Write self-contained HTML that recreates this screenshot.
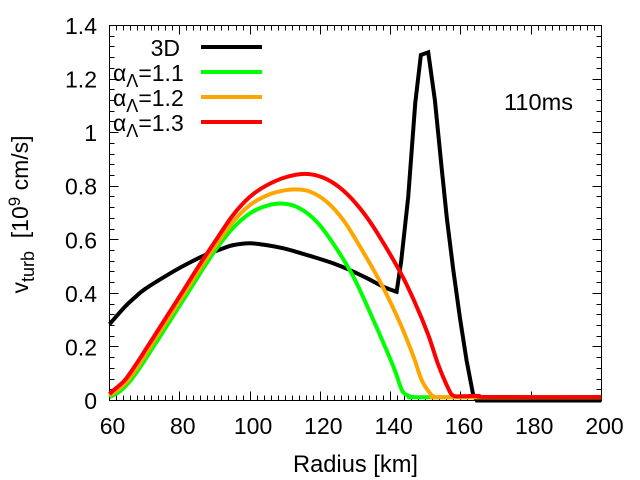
<!DOCTYPE html>
<html>
<head>
<meta charset="utf-8">
<style>
html,body{margin:0;padding:0;background:#fff;}
svg{display:block;font-family:"Liberation Sans",sans-serif;fill:#000;}
</style>
</head>
<body>
<svg id="chart" width="640" height="480" viewBox="0 0 640 480" xmlns="http://www.w3.org/2000/svg">
<rect x="0" y="0" width="640" height="480" fill="#fff"/>
<g id="ticks"></g>
<g id="xlabels"></g>
<g id="ylabels"></g>
<rect x="109.5" y="25.5" width="492" height="375" fill="none" stroke="#000" stroke-width="1"/>
<g id="series"></g>
<text x="355.5" y="472" font-size="24" textLength="125" lengthAdjust="spacingAndGlyphs" text-anchor="middle">Radius [km]</text>
<text transform="translate(28,214.5) rotate(-90)" font-size="23" text-anchor="middle">v<tspan font-size="18" dy="6">turb</tspan><tspan dy="-6" xml:space="preserve">  [10</tspan><tspan font-size="17" dy="-8">9</tspan><tspan dy="8"> cm/s]</tspan></text>
<text x="504" y="110" font-size="23" textLength="69" lengthAdjust="spacingAndGlyphs">110ms</text>
<g>
<text x="180" y="56" font-size="23" text-anchor="end">3D</text>
<text x="113" y="81" font-size="23">α<tspan font-size="18" dy="6">Λ</tspan><tspan dy="-6">=1.1</tspan></text>
<text x="113" y="106" font-size="23">α<tspan font-size="18" dy="6">Λ</tspan><tspan dy="-6">=1.2</tspan></text>
<text x="113" y="131" font-size="23">α<tspan font-size="18" dy="6">Λ</tspan><tspan dy="-6">=1.3</tspan></text>
<line x1="201" y1="47" x2="262" y2="47" stroke="#000" stroke-width="4"/>
<line x1="201" y1="72" x2="262" y2="72" stroke="#00ff00" stroke-width="4"/>
<line x1="201" y1="97" x2="262" y2="97" stroke="#ffa500" stroke-width="4"/>
<line x1="201" y1="122" x2="262" y2="122" stroke="#ff0000" stroke-width="4"/>
</g>
</svg>
<script>
const xTickValues = [60, 80, 100, 120, 140, 160, 180, 200];
const yTickValues = [0, 0.2, 0.4, 0.6, 0.8, 1, 1.2, 1.4];
const xTickLabels = ["60", "80", "100", "120", "140", "160", "180", "200"];
const yTickLabels = ["0", "0.2", "0.4", "0.6", "0.8", "1", "1.2", "1.4"];

const radius3D = [60, 64.4, 67, 70.1, 77.7, 82.4, 87.2, 91.9, 95.2, 100, 104.7, 109.5, 114.2, 119, 123.7, 128.4, 133.2, 137.9, 141.2, 141.7, 143, 145, 147, 148.6, 150.7, 152.6, 154.5, 156, 157.8, 159.7, 161.6, 163.5, 164.5, 200];
const values3D = [0.285, 0.35, 0.382, 0.416, 0.478, 0.512, 0.543, 0.566, 0.58, 0.587, 0.58, 0.568, 0.551, 0.532, 0.512, 0.487, 0.457, 0.425, 0.408, 0.406, 0.52, 0.76, 1.11, 1.29, 1.3, 1.12, 0.87, 0.68, 0.49, 0.31, 0.15, 0.02, 0, 0];

const radiusA11 = [60, 63, 66, 69, 72.7, 76.7, 82.2, 87, 90.5, 95.2, 100, 104.7, 109.5, 114.2, 119, 123.7, 129.4, 135.1, 140.8, 143.2, 145, 146.5, 150, 200];
const valuesA11 = [0.012, 0.035, 0.075, 0.13, 0.205, 0.287, 0.4, 0.5, 0.568, 0.645, 0.699, 0.727, 0.735, 0.717, 0.667, 0.585, 0.462, 0.3, 0.126, 0.039, 0.018, 0.013, 0.012, 0.012];

const radiusA12 = [60, 62.2, 65.2, 68.2, 71.8, 75.8, 81.3, 86.1, 90.5, 95.2, 100, 104.7, 108.5, 112.8, 117, 121.8, 126.5, 131.3, 137.5, 142.7, 146.5, 148.8, 151.2, 152.6, 156, 200];
const valuesA12 = [0.018, 0.038, 0.075, 0.13, 0.205, 0.287, 0.4, 0.5, 0.585, 0.668, 0.73, 0.765, 0.781, 0.788, 0.78, 0.742, 0.674, 0.574, 0.431, 0.288, 0.164, 0.077, 0.027, 0.014, 0.012, 0.012];

const radiusA13 = [60, 61.3, 64.3, 67.3, 71, 75, 80.5, 85.3, 90.5, 95.2, 100, 104.7, 110, 115.6, 120.8, 125.6, 130.3, 135, 142.7, 147, 150.7, 153.5, 156.4, 157.8, 160, 165, 168, 200];
const valuesA13 = [0.024, 0.04, 0.075, 0.13, 0.205, 0.287, 0.4, 0.5, 0.603, 0.693, 0.761, 0.803, 0.833, 0.846, 0.832, 0.794, 0.733, 0.65, 0.48, 0.363, 0.245, 0.135, 0.045, 0.018, 0.016, 0.017, 0.013, 0.013];

const NS = "http://www.w3.org/2000/svg";
const xMin = 60, xMax = 200, yMin = 0, yMax = 1.4;
const left = 109.5, right = 601.5, top_ = 25.5, bottom = 400.5;
function xScale(v) { return left + (v - xMin) / (xMax - xMin) * (right - left); }
function yScale(v) { return bottom - (v - yMin) / (yMax - yMin) * (bottom - top_); }

function addLine(parent, x1, y1, x2, y2) {
  const l = document.createElementNS(NS, "line");
  
  
  l.setAttribute("x1", x1); l.setAttribute("y1", y1);
  l.setAttribute("x2", x2); l.setAttribute("y2", y2);
  l.setAttribute("stroke", "#000");
  l.setAttribute("stroke-width", "1");
  parent.appendChild(l);
}

const tickGroup = document.getElementById("ticks");
for (let i = 0; i < xTickValues.length - 1; i++) {
  const step = (xTickValues[i + 1] - xTickValues[i]) / 10;
  for (let j = 0; j < 10; j++) {
    const x = Math.round(xScale(xTickValues[i] + j * step) - 0.5) + 0.5;
    const len = j === 0 ? 9 : 5;
    addLine(tickGroup, x, bottom, x, bottom - len);
    addLine(tickGroup, x, top_, x, top_ + len);
  }
}
for (let i = 0; i < yTickValues.length - 1; i++) {
  const step = (yTickValues[i + 1] - yTickValues[i]) / 5;
  for (let j = 0; j < 5; j++) {
    const y = Math.round(yScale(yTickValues[i] + j * step) - 0.5) + 0.5;
    const len = j === 0 ? 9 : 5;
    addLine(tickGroup, left, y, left + len, y);
    addLine(tickGroup, right, y, right - len, y);
  }
}

const xLabelGroup = document.getElementById("xlabels");
xTickValues.forEach(function (v, i) {
  const t = document.createElementNS(NS, "text");
  
  
  t.setAttribute("x", xScale(v) + 3);
  t.setAttribute("y", 434);
  t.setAttribute("font-size", "23");
  t.setAttribute("text-anchor", "middle");
  t.textContent = xTickLabels[i];
  xLabelGroup.appendChild(t);
});

const yLabelGroup = document.getElementById("ylabels");
yTickValues.forEach(function (v, i) {
  const t = document.createElementNS(NS, "text");
  
  
  t.setAttribute("x", 97);
  t.setAttribute("y", yScale(v) + 8.5);
  t.setAttribute("font-size", "23");
  t.setAttribute("text-anchor", "end");
  t.textContent = yTickLabels[i];
  yLabelGroup.appendChild(t);
});

// Smooth (Catmull-Rom) through points up to smoothEnd, straight segments afterwards.
function buildPath(xs, ys, smoothEnd) {
  const px = xs.map(xScale), py = ys.map(yScale);
  const n = px.length;
  let d = "M" + px[0].toFixed(2) + " " + py[0].toFixed(2);
  for (let i = 0; i < n - 1; i++) {
    if (i + 1 <= smoothEnd) {
      const a = Math.max(i - 1, 0), b = Math.min(i + 2, smoothEnd);
      const c1x = px[i] + (px[i + 1] - px[a]) / 6, c1y = py[i] + (py[i + 1] - py[a]) / 6;
      const c2x = px[i + 1] - (px[b] - px[i]) / 6, c2y = py[i + 1] - (py[b] - py[i]) / 6;
      d += "C" + [c1x, c1y, c2x, c2y, px[i + 1], py[i + 1]].map(function (q) { return q.toFixed(2); }).join(" ");
    } else {
      d += "L" + px[i + 1].toFixed(2) + " " + py[i + 1].toFixed(2);
    }
  }
  return d;
}

const seriesGroup = document.getElementById("series");
function drawSeries(xs, ys, color, name, smoothEnd) {
  const p = document.createElementNS(NS, "path");
  
  
  p.setAttribute("d", buildPath(xs, ys, smoothEnd));
  p.setAttribute("fill", "none");
  p.setAttribute("stroke", color);
  p.setAttribute("stroke-width", "4");
  p.setAttribute("stroke-linejoin", "miter");
  seriesGroup.appendChild(p);
}
drawSeries(radius3D, values3D, "#000000", "series-3d", radius3D.indexOf(141.7));
drawSeries(radiusA11, valuesA11, "#00ff00", "series-alpha-1-1", radiusA11.length - 1);
drawSeries(radiusA12, valuesA12, "#ffa500", "series-alpha-1-2", radiusA12.length - 1);
drawSeries(radiusA13, valuesA13, "#ff0000", "series-alpha-1-3", radiusA13.length - 1);
</script>
</body>
</html>
